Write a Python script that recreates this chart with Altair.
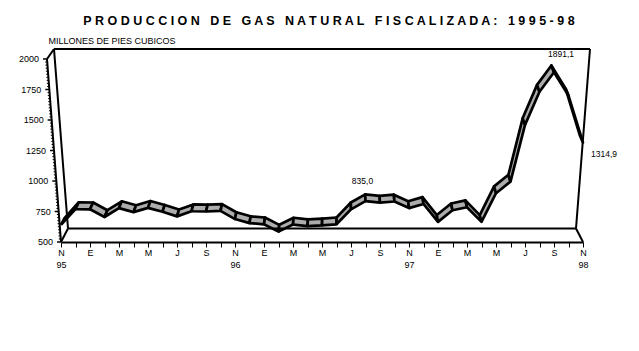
import json
import altair as alt
import pandas as pd

# ---------------- data ----------------
months = ["Nov 95", "Dic 95",
          "Ene 96", "Feb 96", "Mar 96", "Abr 96", "May 96", "Jun 96",
          "Jul 96", "Ago 96", "Sep 96", "Oct 96", "Nov 96", "Dic 96",
          "Ene 97", "Feb 97", "Mar 97", "Abr 97", "May 97", "Jun 97",
          "Jul 97", "Ago 97", "Sep 97", "Oct 97", "Nov 97", "Dic 97",
          "Ene 98", "Feb 98", "Mar 98", "Abr 98", "May 98", "Jun 98",
          "Jul 98", "Ago 98", "Sep 98", "Oct 98", "Nov 98"]
production = [640, 770, 768, 705, 778, 745, 780, 748, 710, 752, 750, 755,
              688, 655, 645, 585, 643, 630, 636, 645, 768, 835.0, 822, 832,
              778, 812, 665, 760, 785, 665, 900, 995, 1460, 1732, 1891.1,
              1700, 1314.9]
x_tick_labels = ["N", "E", "M", "M", "J", "S", "N", "E", "M", "M", "J", "S",
                 "N", "E", "M", "M", "J", "S", "N"]
year_labels = {0: "95", 12: "96", 24: "97", 36: "98"}
y_major = [500, 750, 1000, 1250, 1500, 1750, 2000]
labelled_months = [21, 34, 36]

TITLE = "PRODUCCION DE GAS NATURAL FISCALIZADA: 1995-98"
Y_TITLE = "MILLONES DE PIES CUBICOS"

# ---------------- 3D geometry (in data units) ----------------
PX_M = 522 / 36.0          # px per month
PX_V = 183 / 1500.0        # px per unit
SLANT = 14 / PX_M          # front y-axis slant at top (months)
WALL_DM = 7 / PX_M         # depth shift of back wall (months)
WALL_DV = 13.5 / PX_V      # depth rise of back wall floor
WALL_TOP = 2000 + 10 / PX_V
RIB_DV = 6.8 / PX_V


def front_m(v):
    return -SLANT * (v - 500) / 1500.0


n = len(production)
last = n - 1


def rib_dm(m):
    # perspective: depth points right on the left side, left on the right side
    return (3.5 - 6.5 * m / last) / PX_M


# ribbon polygons, one per segment
rows = []
for i in range(n - 1):
    a, b = production[i], production[i + 1]
    pts = [(i, a), (i + 1, b), (i + 1 + rib_dm(i + 1), b + RIB_DV),
           (i + rib_dm(i), a + RIB_DV), (i, a)]
    for k, (mm, vv) in enumerate(pts):
        rows.append({"seg": i, "k": k, "m": mm, "v": vv})
ribbon = pd.DataFrame(rows)

# frame / walls
frame = pd.DataFrame([
    {"m1": front_m(2000) + WALL_DM, "v1": WALL_TOP, "m2": last + WALL_DM, "v2": WALL_TOP},
    {"m1": front_m(2000) + WALL_DM, "v1": WALL_TOP, "m2": WALL_DM, "v2": 500 + WALL_DV},
    {"m1": last + WALL_DM, "v1": WALL_TOP, "m2": last - WALL_DM, "v2": 500 + WALL_DV},
    {"m1": WALL_DM, "v1": 500 + WALL_DV, "m2": last - WALL_DM, "v2": 500 + WALL_DV},
    {"m1": front_m(2000), "v1": 2000, "m2": 0, "v2": 500},
    {"m1": front_m(2000), "v1": 2000, "m2": front_m(2000) + WALL_DM, "v2": WALL_TOP},
    {"m1": 0, "v1": 500, "m2": WALL_DM, "v2": 500 + WALL_DV},
    {"m1": last, "v1": 500, "m2": last - WALL_DM, "v2": 500 + WALL_DV},
])

major = pd.DataFrame([{"v": v, "m2": front_m(v), "m1": front_m(v) - 4 / PX_M,
                       "lab": str(v)} for v in y_major])
minor = pd.DataFrame([{"v": v, "m2": front_m(v), "m1": front_m(v) - 2 / PX_M}
                      for v in range(500, 2001, 25) if v not in y_major])

labels = pd.DataFrame([{"m": i, "v": production[i],
                        "txt": f"{production[i]:.1f}".replace(".", ",")}
                       for i in labelled_months])

# x axis labels
lab_arr = []
for mth in range(n):
    if mth % 2:
        lab_arr.append("")
    else:
        t = x_tick_labels[mth // 2]
        lab_arr.append([t, year_labels[mth]] if mth in year_labels else t)
label_expr = json.dumps(lab_arr) + "[datum.value]"

FONT = "Liberation Sans"
xs = alt.Scale(domain=[0, last], nice=False, zero=False)
ys = alt.Scale(domain=[500, 2000], nice=False, zero=False)

x_axis = alt.Axis(values=list(range(n)), labelExpr=label_expr, tickSize=5,
                  tickWidth=1, tickColor="black", domainColor="black",
                  domainWidth=2, labelFont=FONT, labelFontSize=9,
                  labelColor="black", labelPadding=1, labelLineHeight=12,
                  labelBaseline="top", labelAngle=0, grid=False, title=None,
                  labelFlush=False, labelOverlap=False, labelBound=False)
y_axis = alt.Axis(domain=False, ticks=False, labels=False, grid=False,
                  title=Y_TITLE, titleAngle=0, titleAlign="left",
                  titleBaseline="alphabetic", titleX=-13, titleY=-15.5,
                  titleFont=FONT, titleFontSize=9, titleFontWeight="normal",
                  titleColor="black")


def X(field):
    return alt.X(field, scale=xs, axis=x_axis)


def Y(field):
    return alt.Y(field, scale=ys, axis=y_axis)


base_rib = alt.Chart(ribbon).mark_line(
    fill="#acacac", stroke="black", strokeWidth=2.7, strokeJoin="round"
).encode(x=X("m:Q"), y=Y("v:Q"), detail="seg:N", order="k:Q")

frame_l = alt.Chart(frame).mark_rule(color="black", strokeWidth=2).encode(
    x=X("m1:Q"), y=Y("v1:Q"), x2="m2:Q", y2="v2:Q")

major_l = alt.Chart(major).mark_rule(color="black", strokeWidth=1.5).encode(
    x=X("m1:Q"), x2="m2:Q", y=Y("v:Q"))
minor_l = alt.Chart(minor).mark_rule(color="black", strokeWidth=1).encode(
    x=X("m1:Q"), x2="m2:Q", y=Y("v:Q"))
ylab_l = alt.Chart(major).mark_text(
    align="right", baseline="middle", dx=-8, font=FONT, fontSize=9,
    color="black").encode(x=X("m2:Q"), y=Y("v:Q"), text="lab:N")

offsets = {21: (-3, -20, "center"), 34: (7, -18, "center"), 36: (8, 11, "left")}
lab_layers = []
for i in labelled_months:
    dx, dy, al = offsets[i]
    lab_layers.append(
        alt.Chart(labels[labels.m == i]).mark_text(
            align=al, baseline="middle", dx=dx, dy=dy, font=FONT,
            fontSize=8.5, color="black").encode(
            x=X("m:Q"), y=Y("v:Q"), text="txt:N"))

chart = alt.layer(base_rib, frame_l, major_l, minor_l, ylab_l, *lab_layers).properties(
    width=522, height=183,
    padding={"left": 61, "top": 59, "right": 56, "bottom": 109},
    autosize=alt.AutoSizeParams(type="none"),
    background="white",
    title=alt.TitleParams(
        text=" ".join(TITLE).replace("   ", "\u00a0\u00a0\u00a0"),
        font=FONT, fontSize=12.5, fontWeight="bold", color="black",
        anchor="middle", frame="group", dx=7, offset=9),
).configure_view(stroke=None).configure_axis(labelOverlap=False)

chart.save("out.html", embed_options={"renderer": "svg", "actions": False})
